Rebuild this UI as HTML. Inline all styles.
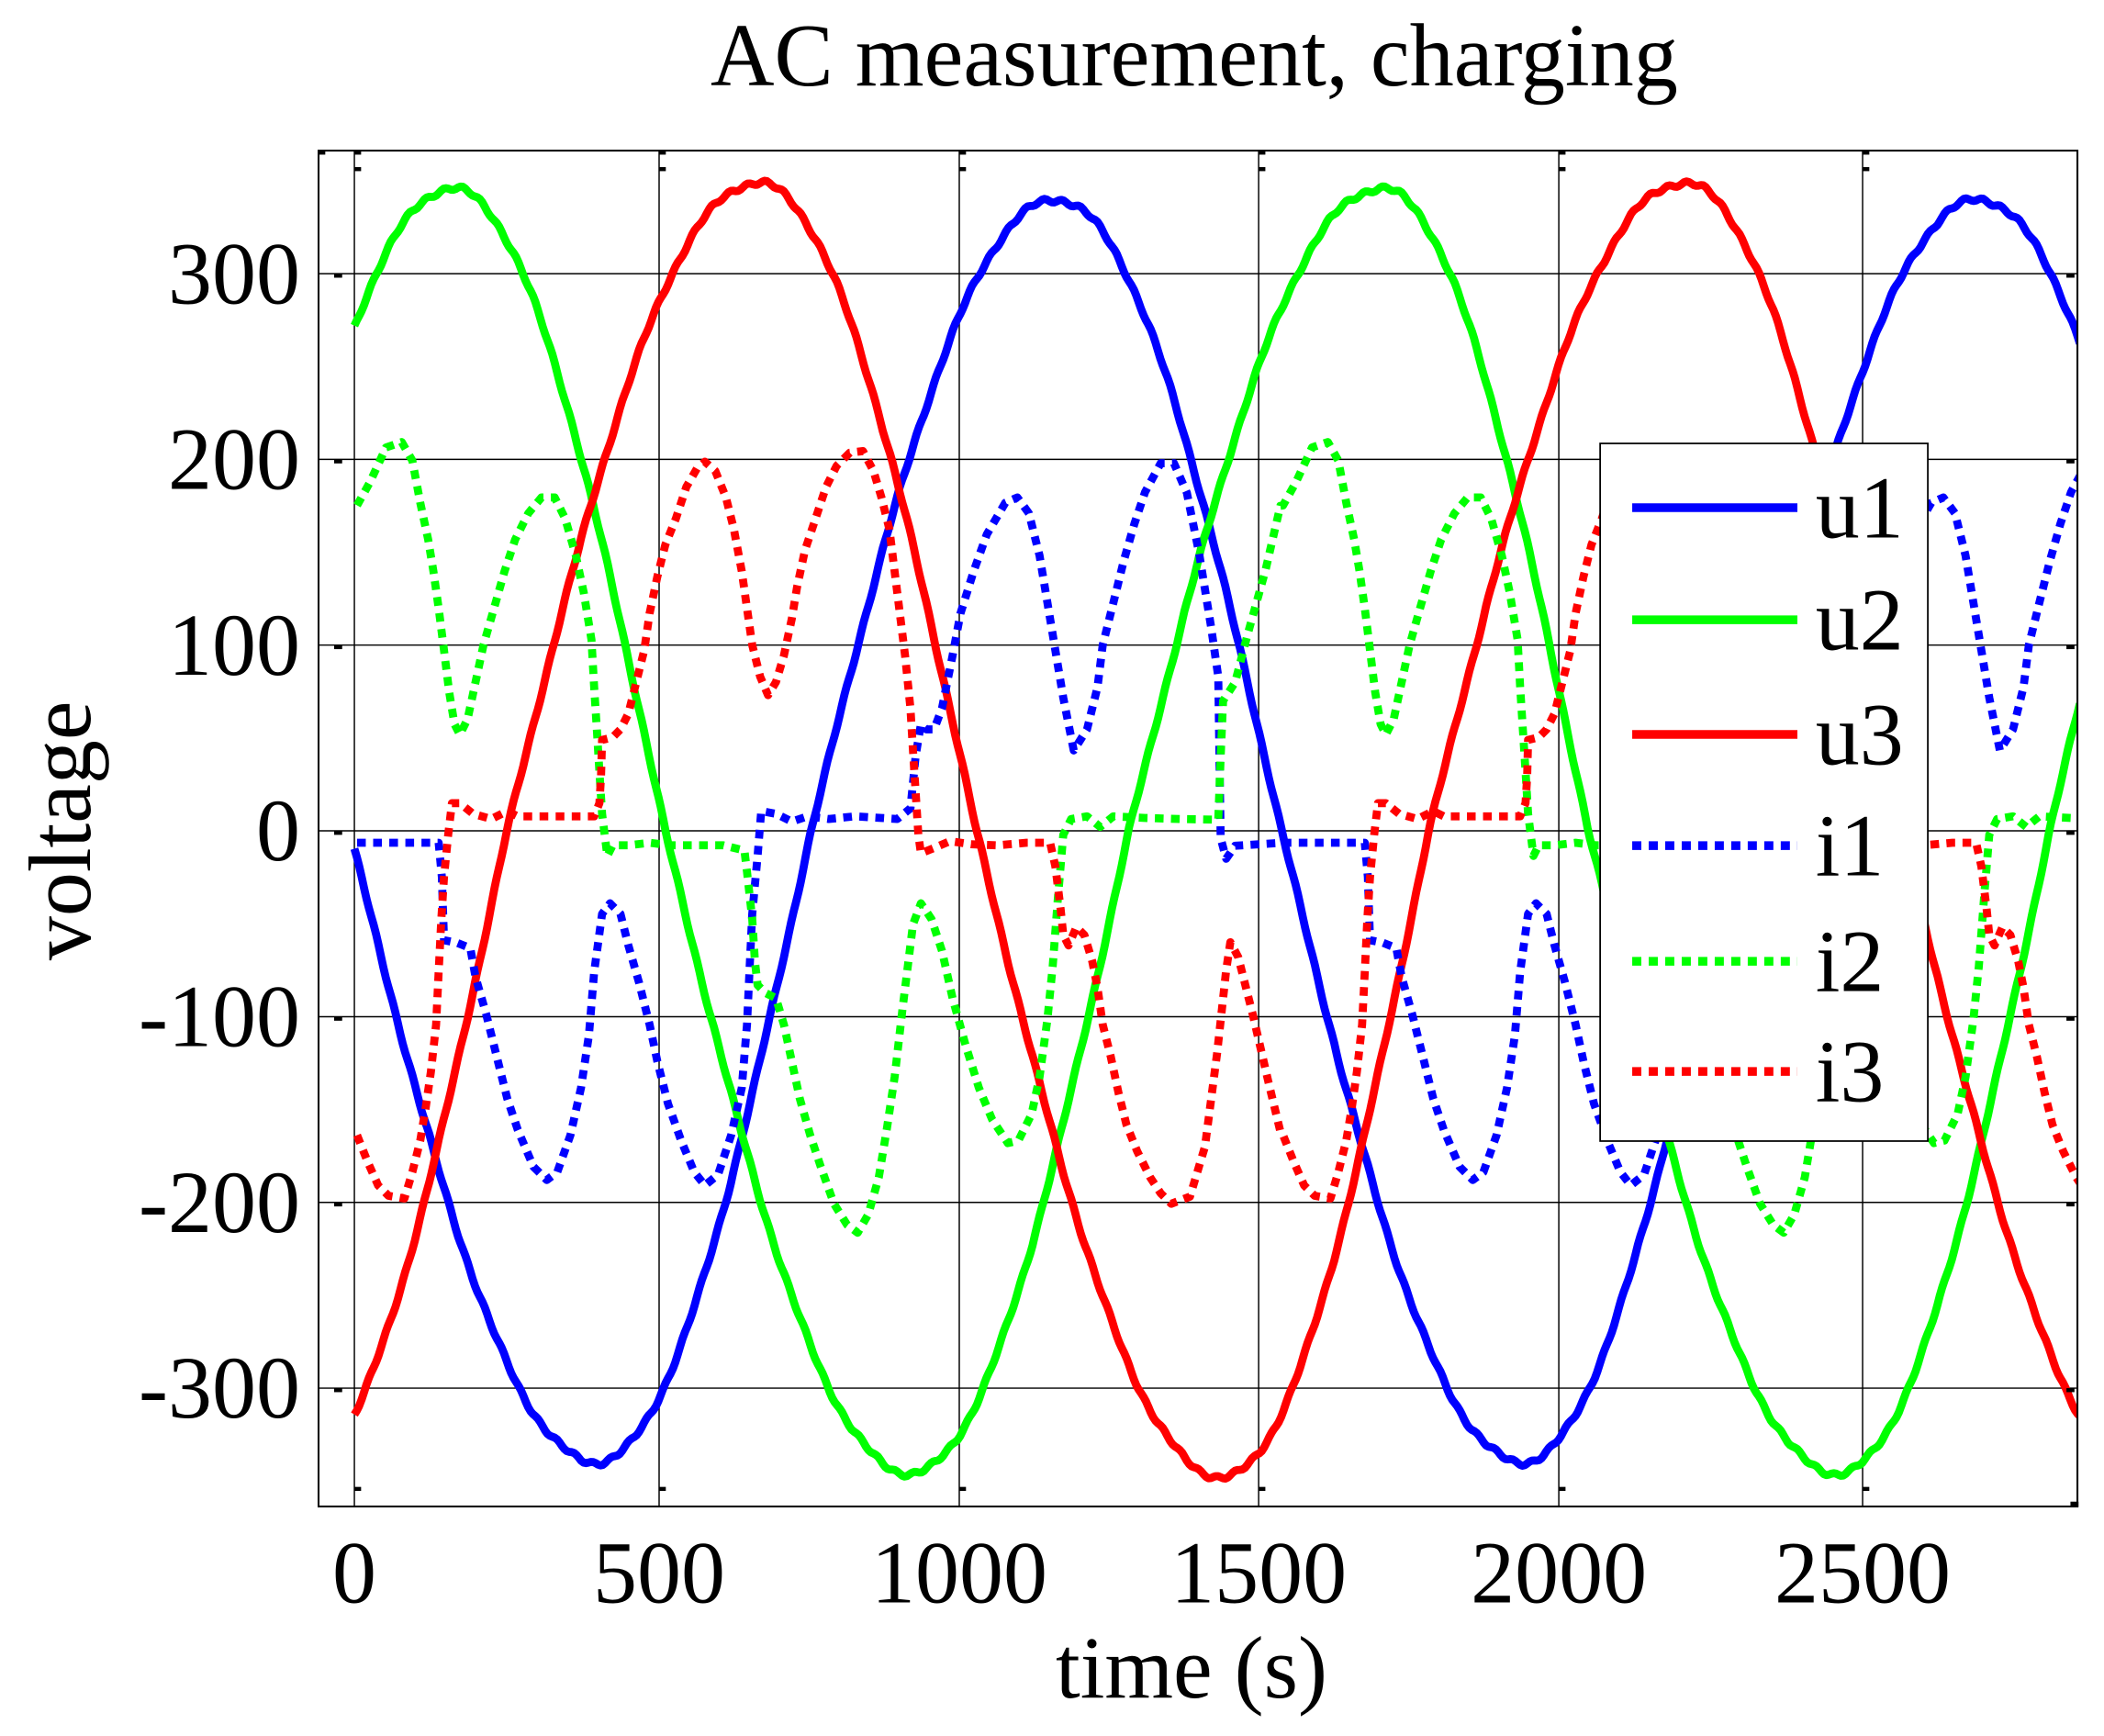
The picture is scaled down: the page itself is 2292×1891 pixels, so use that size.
<!DOCTYPE html>
<html><head><meta charset="utf-8">
<style>
html,body{margin:0;padding:0;background:#fff;}
svg{display:block;}
text{font-family:"Liberation Serif","Times New Roman",serif;fill:#000;}
</style></head>
<body>
<svg id="s" width="2292" height="1891" viewBox="0 0 1568 1293.6" xmlns="http://www.w3.org/2000/svg">
<defs><clipPath id="c"><rect x="237.4" y="112.2" width="1310.8" height="1010.4"/></clipPath></defs>
<rect x="0" y="0" width="1568" height="1293.6" fill="#fff"/>
<g id="grid" stroke="#000" stroke-width="1"></g>
<g id="series" clip-path="url(#c)" fill="none"></g>
<rect x="237.4" y="112.2" width="1310.8" height="1010.4" fill="none" stroke="#000" stroke-width="1.4"/>
<g id="ticks" fill="#000"></g>
<text x="890" y="63.6" font-size="67" text-anchor="middle" textLength="721" lengthAdjust="spacingAndGlyphs">AC measurement, charging</text>
<g font-size="65.7" text-anchor="end">
<text x="223.7" y="225.9">300</text>
<text x="223.7" y="364.3">200</text>
<text x="223.7" y="502.7">100</text>
<text x="223.7" y="641.1">0</text>
<text x="223.7" y="779.6">-100</text>
<text x="223.7" y="918">-200</text>
<text x="223.7" y="1056.4">-300</text>
</g>
<g font-size="65.7" text-anchor="middle">
<text x="264.1" y="1194">0</text>
<text x="491.2" y="1194">500</text>
<text x="714.9" y="1194">1000</text>
<text x="938" y="1194">1500</text>
<text x="1161.7" y="1194">2000</text>
<text x="1388.1" y="1194">2500</text>
<text x="888" y="1265">time (s)</text>
<text transform="translate(67,619) rotate(-90)" x="0" y="0">voltage</text>
</g>
<g id="legend">
<rect x="1192.5" y="330.4" width="244.2" height="519.9" fill="#fff" stroke="#000" stroke-width="1.2"/>
<line x1="1216.4" y1="378.3" x2="1339.5" y2="378.3" stroke="#0000ff" stroke-width="6.5"/>
<line x1="1216.4" y1="461.8" x2="1339.5" y2="461.8" stroke="#00ff00" stroke-width="6.5"/>
<line x1="1216.4" y1="547.3" x2="1339.5" y2="547.3" stroke="#ff0000" stroke-width="6.5"/>
<line x1="1216.4" y1="630.1" x2="1339.5" y2="630.1" stroke="#0000ff" stroke-width="6.5" stroke-dasharray="6.8 5.5"/>
<line x1="1216.4" y1="716.3" x2="1339.5" y2="716.3" stroke="#00ff00" stroke-width="6.5" stroke-dasharray="6.8 5.5"/>
<line x1="1216.4" y1="798.4" x2="1339.5" y2="798.4" stroke="#ff0000" stroke-width="6.5" stroke-dasharray="6.8 5.5"/>
<g font-size="65.7">
<text x="1353" y="400.5">u1</text>
<text x="1353" y="484">u2</text>
<text x="1353" y="569.5">u3</text>
<text x="1353" y="652.3">i1</text>
<text x="1353" y="738.5">i2</text>
<text x="1353" y="820.6">i3</text>
</g>
</g>
</svg>
<script>
(function(){
var NS="http://www.w3.org/2000/svg";
function X(t){return 264.1+t*0.4496;}
function Y(v){return 619.1-v*1.384;}
var grid=document.getElementById('grid');
var gx=[264.1,491.2,714.9,938,1161.7,1388.1];
var gy=[203.9,342.3,480.7,619.1,757.6,896,1034.4];
gx.forEach(function(x){var l=document.createElementNS(NS,'line');l.setAttribute('x1',x);l.setAttribute('x2',x);l.setAttribute('y1',112.2);l.setAttribute('y2',1122.6);grid.appendChild(l);});
gy.forEach(function(y){var l=document.createElementNS(NS,'line');l.setAttribute('x1',237.4);l.setAttribute('x2',1548.2);l.setAttribute('y1',y);l.setAttribute('y2',y);grid.appendChild(l);});
var tk=document.getElementById('ticks');
function r(x,y,w,h){var e=document.createElementNS(NS,'rect');e.setAttribute('x',x);e.setAttribute('y',y);e.setAttribute('width',w);e.setAttribute('height',h);tk.appendChild(e);}
gx.forEach(function(x){r(x,112.2,5,3);r(x,124.5,5,3);r(x,1108,5,3);});
gy.forEach(function(y){r(249,y,6,3);r(1540,y,6,3);});
r(237.4,112.2,5,3);r(1543,1119,6,4);
function keyInterp(keys,t){
 for(var i=0;i<keys.length-1;i++){
  var a=keys[i],b=keys[i+1];
  if(t>=a[0]&&t<=b[0]){
   var f=(t-a[0])/(b[0]-a[0]);
   if(Math.abs(a[1])<1){ return b[1]*Math.sin(f*Math.PI/2); }
   else { return a[1]*Math.cos(f*Math.PI/2); }
  }
 }
 return 0;
}
var u1k=[[-390,340],[-8,0],[401,-340],[757,0],[1163,340],[1537,0],[1936,-340],[2290,0],[2693,340],[3075,0]];
var u2k=[[-218,0],[162,346],[515,0],[922,-346],[1284,0],[1702,346],[2045,0],[2459,-346],[2810,0],[3200,346]];
var u3k=[[-100,-348],[253,0],[668,349],[1031,0],[1439,-348],[1781,0],[2204,349],[2565,0],[2975,-348]];
function upath(keys,seed){
 var d='';
 for(var t=0;t<=2860;t+=4){
  var v=keyInterp(keys,t)+1.0*Math.sin(t*0.21+seed)+1.0*Math.sin(t*0.057+seed*2);
  d+=(t?'L':'M')+X(t).toFixed(1)+' '+Y(v).toFixed(1);
 }
 return d;
}
function conv(sh){return sh.map(function(p){return [p[0]*0.8736,224.9-p[1]*0.2838];});}
var i1=conv([[5,815],[160,815],[166,880],[170,1000],[195,1005],[220,1015],[230,1070],[250,1140],[270,1220],[290,1300],[310,1360],[340,1430],[365,1455],[385,1440],[410,1370],[430,1280],[445,1180],[455,1060],[470,950],[485,930],[505,950],[520,1010],[540,1080],[560,1160],[575,1230],[595,1310],[620,1380],[645,1440],[665,1465],[690,1445],[715,1370],[735,1280],[745,1160],[750,1050],[755,950],[765,840],[772,755],[800,760],[830,775],[860,765],[900,770],[950,765],[1000,768],[1030,770],[1055,750],[1065,650],[1075,590],[1085,600],[1100,600],[1115,560],[1135,460],[1150,380],[1175,300],[1200,230],[1235,170],[1258,160],[1280,190],[1300,270],[1315,360],[1330,450],[1345,540],[1365,640],[1390,600],[1410,520],[1420,440],[1440,360],[1460,280],[1480,210],[1500,150],[1530,95],[1555,95]]).concat([[1380,182],[1400,150],[1420,110],[1432,83],[1436,-4],[1445,-15],[1460,-8],[1535,-6.5]]);
var i2=conv([[5,175],[30,130],[60,65],[90,55],[110,90],[125,170],[140,240],[150,300],[160,370],[170,450],[180,530],[190,590],[200,610],[215,580],[230,510],[245,440],[265,370],[285,300],[305,240],[330,190],[355,160],[380,160],[400,200],[420,270],[435,340],[450,430],[455,520],[460,600],[465,680],[470,760],[480,840],[490,820],[520,820],[560,815],[600,820],[700,820],[740,830],[745,870],[755,960],[760,1040],[765,1085],[780,1100],[800,1110],[815,1160],[830,1230],[845,1300],[865,1370],[885,1430],[910,1500],[935,1540],[955,1555],[975,1520],[995,1450],[1010,1360],[1025,1260],[1040,1130],[1050,1050],[1060,970],[1075,930],[1095,960],[1115,1020],[1135,1110],[1160,1200],[1185,1280],[1210,1340],[1240,1385],[1260,1380],[1285,1330],[1300,1260],[1315,1150],[1325,1050],[1335,920],[1345,800],[1360,770],[1390,765],[1415,785],[1440,765],[1500,768],[1568,770]]).concat([[1432,6],[1436,40],[1440,70],[1460,80],[1480,105],[1510,140],[1535,175]]);
var i3=conv([[5,1370],[25,1420],[45,1465],[65,1485],[95,1490],[110,1440],[125,1380],[135,1320],[145,1250],[155,1160],[160,1060],[165,960],[170,880],[178,800],[185,740],[200,740],[225,760],[260,770],[290,755],[310,765],[350,765],[420,765],[455,765],[465,740],[468,690],[470,620],[490,615],[505,600],[520,570],[535,510],[550,450],[560,380],[575,310],[590,250],[610,200],[630,140],[650,105],[665,92],[685,110],[705,160],[720,220],[735,300],[745,370],[755,440],[770,500],[785,535],[800,510],[815,460],[830,390],[840,330],[855,260],[875,200],[895,140],[915,100],[940,75],[965,72],[985,110],[1000,160],[1015,220],[1025,300],[1035,380],[1045,460],[1055,560],[1060,640],[1065,720],[1070,800],[1075,835],[1100,825],[1130,812],[1170,818],[1220,820],[1275,815],[1320,815],[1330,860],[1340,940],[1345,990],[1355,1010],[1370,975],[1385,990],[1400,1040],[1410,1090],[1420,1160],[1435,1220],[1450,1290],[1465,1350],[1485,1400],[1510,1450],[1530,1480],[1550,1500]]).concat([[1385,-197],[1410,-170],[1430,-120],[1445,-75],[1452,-60],[1465,-68],[1490,-100],[1515,-135],[1535,-162]]);
function ipath(base){
 var pts=[];
 for(var k=0;k<2;k++){base.forEach(function(p){var t=p[0]+k*1535;if(t<=2900)pts.push([t,p[1]]);});}
 return pts.map(function(p,i){return (i?'L':'M')+X(p[0]).toFixed(1)+' '+Y(p[1]).toFixed(1);}).join('');
}
var g=document.getElementById('series');
function add(d,col,dash){var p=document.createElementNS(NS,'path');p.setAttribute('d',d);p.setAttribute('stroke',col);p.setAttribute('stroke-width','6');p.setAttribute('stroke-linejoin','round');if(dash)p.setAttribute('stroke-dasharray','6.5 5.5');g.appendChild(p);}
add(upath(u1k,0.3),'#0000ff');
add(upath(u2k,1.7),'#00ff00');
add(upath(u3k,2.9),'#ff0000');
add(ipath(i1),'#0000ff',1);
add(ipath(i2),'#00ff00',1);
add(ipath(i3),'#ff0000',1);
})();
</script>
</body></html>
